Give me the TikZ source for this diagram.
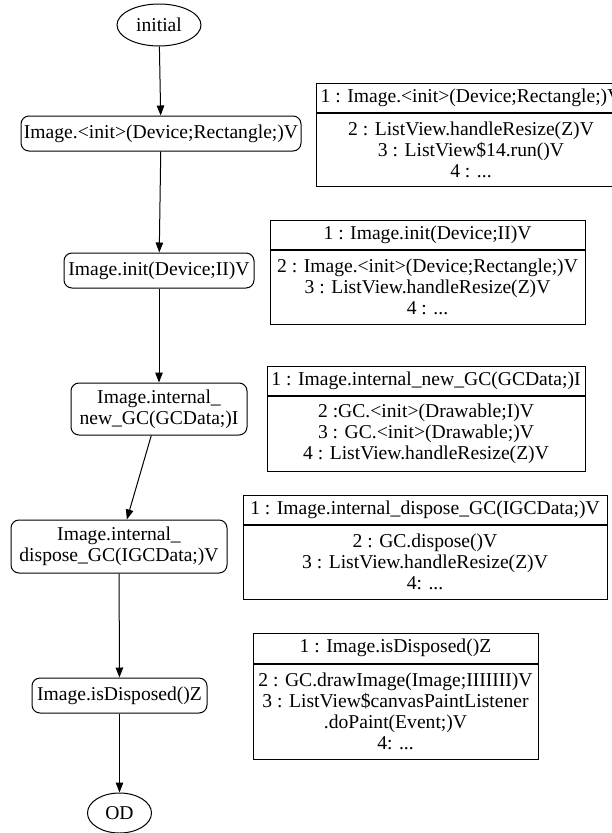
\documentclass[tikz,border=0pt]{standalone}
\usepackage{fontspec}
\setmainfont{Liberation Serif}
\usetikzlibrary{positioning, arrows.meta, shapes.geometric}

\begin{document}
\begin{tikzpicture}[x=1pt, y=-1pt,
    font=\fontsize{19.6}{21}\selectfont,
    state/.style={draw, ellipse, line width=1pt, inner sep=0pt},
    call/.style={draw, rounded corners=8pt, line width=1pt, align=center, inner sep=2pt},
    rechead/.style={draw, line width=1pt, inner sep=2pt, minimum height=29pt},
    recbody/.style={draw, line width=1pt, inner sep=2pt, align=center},
    flow/.style={-{Triangle[length=10pt, width=7.5pt]}, line width=1pt},
  ]
  \useasboundingbox (0,0) rectangle (611,833);

  \node[state, minimum width=84pt, minimum height=42pt] (nStart) at (159,25) {initial};
  \node[call, minimum width=280pt, minimum height=35pt] (nCtor) at (161,133.5)
       {Image.<init>(Device;Rectangle;)V};
  \node[call, minimum width=190pt, minimum height=35pt] (nInit) at (159,270.5)
       {Image.init(Device;II)V};
  \node[call, minimum width=176pt, minimum height=52pt] (nNewGC) at (159,409)
       {Image.internal\_\\new\_GC(GCData;)I};
  \node[call, minimum width=216pt, minimum height=53pt] (nDispGC) at (119,546.5)
       {Image.internal\_\\dispose\_GC(IGCData;)V};
  \node[call, minimum width=175pt, minimum height=35pt] (nIsDisp) at (119.5,695.5)
       {Image.isDisposed()Z};
  \node[state, minimum width=64pt, minimum height=40pt] (nEnd) at (119.5,813) {OD};

  \draw[flow] (nStart) -- (nCtor);
  \draw[flow] (nCtor) -- (nInit);
  \draw[flow] (nInit) -- (nNewGC);
  \draw[flow] (nNewGC) -- (nDispGC);
  \draw[flow] (nDispGC) -- (nIsDisp);
  \draw[flow] (nIsDisp) -- (nEnd);

  \node[rechead, minimum width=310pt] (hdCtor) at (471,97.5)
       {1 : Image.<init>(Device;Rectangle;)V};
  \node[recbody, minimum width=310pt, minimum height=73pt, below=0pt of hdCtor] (bdCtor)
       {2 : ListView.handleResize(Z)V\\3 : ListView\$14.run()V\\4 : ...};

  \node[rechead, minimum width=315pt] (hdInit) at (427.5,234.5)
       {1 : Image.init(Device;II)V};
  \node[recbody, minimum width=315pt, minimum height=74pt, below=0pt of hdInit] (bdInit)
       {2 : Image.<init>(Device;Rectangle;)V\\3 : ListView.handleResize(Z)V\\4 : ...};

  \node[rechead, minimum width=318pt] (hdNewGC) at (426,380.5)
       {1 : Image.internal\_new\_GC(GCData;)I};
  \node[recbody, minimum width=318pt, minimum height=75pt, below=0pt of hdNewGC] (bdNewGC)
       {2 :GC.<init>(Drawable;I)V\\3 : GC.<init>(Drawable;)V\\4 : ListView.handleResize(Z)V};

  \node[rechead, minimum width=364pt] (hdDispGC) at (425,509.5)
       {1 : Image.internal\_dispose\_GC(IGCData;)V};
  \node[recbody, minimum width=364pt, minimum height=74pt, below=0pt of hdDispGC] (bdDispGC)
       {2 : GC.dispose()V\\3 : ListView.handleResize(Z)V\\4: ...};

  \node[rechead, minimum width=285pt, minimum height=30pt] (hdIsDisp) at (395.5,648)
       {1 : Image.isDisposed()Z};
  \node[recbody, minimum width=285pt, minimum height=95pt, below=0pt of hdIsDisp] (bdIsDisp)
       {2 : GC.drawImage(Image;IIIIIII)V\\3 : ListView\$canvasPaintListener\\.doPaint(Event;)V\\4: ...};
\end{tikzpicture}
\end{document}
